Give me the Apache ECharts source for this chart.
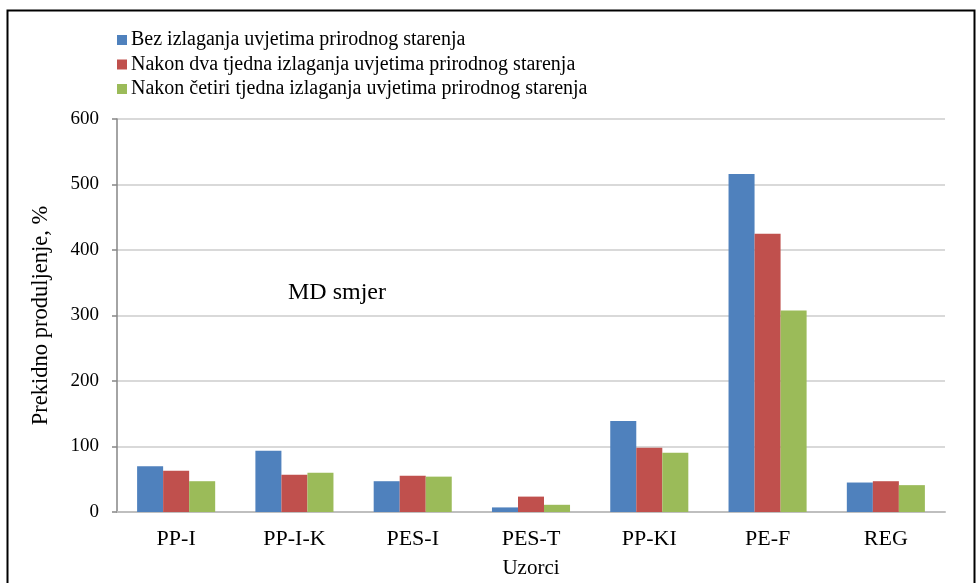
<!DOCTYPE html>
<html>
<head>
<meta charset="utf-8">
<script src="https://cdn.jsdelivr.net/npm/echarts@6/dist/echarts.min.js"></script>
<style>html,body{margin:0;padding:0;background:#fff;}#c{width:978px;height:583px;}</style>
</head>
<body>
<div id="c"></div>
<script>
const categories = ['PP-I', 'PP-I-K', 'PES-I', 'PES-T', 'PP-KI', 'PE-F', 'REG'];
const seriesNames = [
  'Bez izlaganja uvjetima prirodnog starenja',
  'Nakon dva tjedna izlaganja uvjetima prirodnog starenja',
  'Nakon četiri tjedna izlaganja uvjetima prirodnog starenja'
];
const bez = [70, 93.5, 47, 7, 139, 516, 45];
const dvaTjedna = [63, 57, 55.5, 23.5, 98, 425, 47];
const cetiriTjedna = [47, 60, 54, 11, 90.5, 307.5, 41];
const yTicks = [0, 100, 200, 300, 400, 500, 600];
const colors = ['#4f81bd', '#c0504d', '#9bbb59'];
const font = 'Liberation Serif';

const chart = echarts.init(document.getElementById('c'));
const data = [bez, dvaTjedna, cetiriTjedna];
chart.setOption({
  animation: false,
  textStyle: { fontFamily: font },
  graphic: [
    { type: 'rect', shape: { x: 7.5, y: 10.5, width: 967, height: 600 }, style: { fill: 'none', stroke: '#000', lineWidth: 2 }, silent: true },
    { type: 'text', left: 288, top: 281, style: { text: 'MD smjer', font: '24px "Liberation Serif"', fill: '#000' } }
  ],
  legend: {
    left: 117, top: 30, orient: 'vertical', itemGap: 4.5, itemWidth: 10, itemHeight: 10,
    padding: 0,
    icon: 'rect',
    textStyle: { fontFamily: font, fontSize: 20, color: '#000', padding: [0, 0, 0, -1] },
    data: seriesNames
  },
  grid: { left: 117, right: 33, top: 119, bottom: 71, containLabel: false, outerBoundsMode: 'none' },
  xAxis: {
    type: 'category', data: categories,
    name: 'Uzorci', nameLocation: 'middle', nameGap: 46,
    nameTextStyle: { fontFamily: font, fontSize: 21, color: '#000' },
    axisLine: { lineStyle: { color: '#bfbfbf', width: 2 } },
    axisTick: { show: false },
    axisLabel: { fontFamily: font, fontSize: 22, color: '#000', margin: 16 }
  },
  yAxis: {
    type: 'value', min: 0, max: 600, interval: 100,
    name: 'Prekidno produljenje, %', nameLocation: 'middle', nameGap: 64, nameRotate: 90,
    nameTextStyle: { fontFamily: font, fontSize: 22.5, color: '#000' },
    axisLine: { show: true, lineStyle: { color: '#868686', width: 1.5 } },
    axisTick: { show: true, length: 5, lineStyle: { color: '#868686', width: 1.5 } },
    axisLabel: { fontFamily: font, fontSize: 19, color: '#000', margin: 18,
      formatter: v => yTicks.includes(v) ? String(v) : '' },
    splitLine: { lineStyle: { color: '#d9d9d9', width: 2 } }
  },
  series: seriesNames.map((n, i) => ({
    name: n, type: 'bar', data: data[i],
    barGap: '0%', barCategoryGap: '34%',
    itemStyle: { color: colors[i] }
  }))
});
</script>
</body>
</html>
